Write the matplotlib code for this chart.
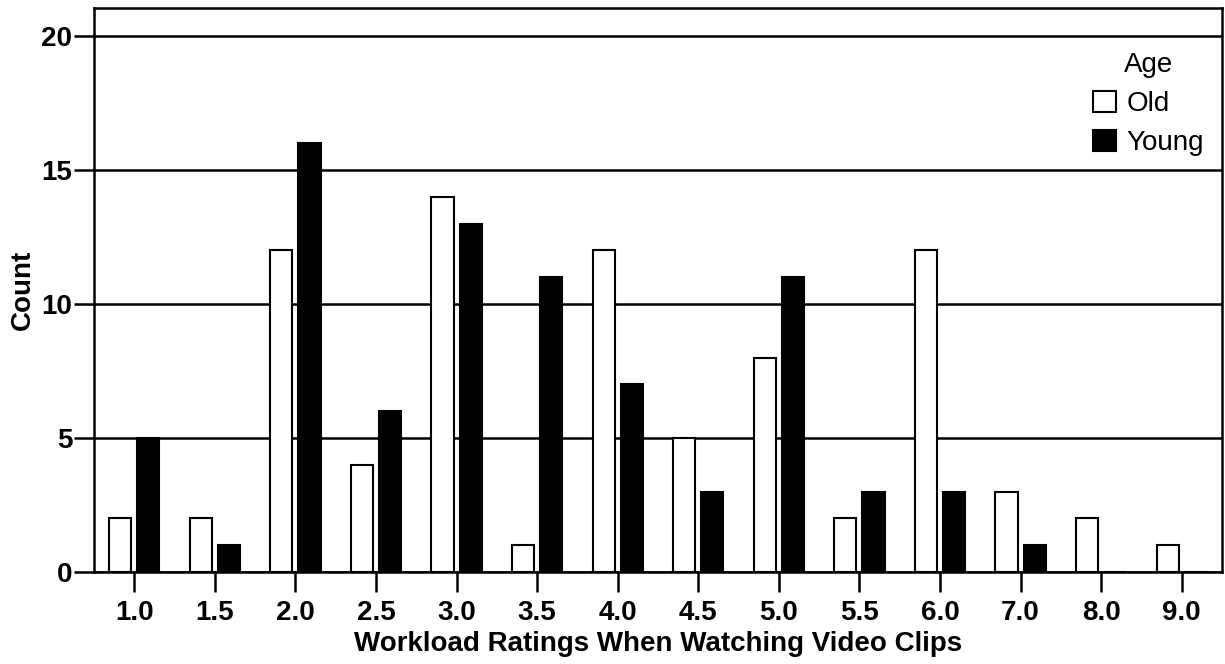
import numpy as np
import matplotlib.pyplot as plt
from matplotlib.patches import Patch

plt.rcParams['font.family'] = ['Liberation Sans', 'DejaVu Sans']

ratings = ['1.0', '1.5', '2.0', '2.5', '3.0', '3.5', '4.0', '4.5', '5.0', '5.5', '6.0', '7.0', '8.0', '9.0']
old_counts = [2, 2, 12, 4, 14, 1, 12, 5, 8, 2, 12, 3, 2, 1]
young_counts = [5, 1, 16, 6, 13, 11, 7, 3, 11, 3, 3, 1, 0, 0]

fig = plt.figure(figsize=(12.25, 6.64), dpi=100)
ax = fig.add_axes([94 / 1225, 92 / 664, (1222 - 94) / 1225, (572 - 8) / 664])

x = np.arange(len(ratings))
w = 0.275
off = 0.175

ax.set_axisbelow(True)
ax.yaxis.grid(True, color='black', linewidth=1.8)
ax.bar(x - off, old_counts, w, color='white', edgecolor='black', linewidth=1.5, zorder=3)
ax.bar(x + off, young_counts, w, color='black', edgecolor='black', linewidth=1.5, zorder=3)

ax.set_xlim(-0.5, len(ratings) - 0.5)
ax.set_ylim(0, 21.04)
ax.set_yticks([0, 5, 10, 15, 20])
ax.set_xticks(x)
ax.set_xticklabels(ratings)

for s in ax.spines.values():
    s.set_linewidth(1.8)

ax.tick_params(axis='both', length=14.5, width=1.8, labelsize=20)
ax.tick_params(axis='x', pad=6)
ax.tick_params(axis='y', pad=1)
for lab in ax.get_xticklabels() + ax.get_yticklabels():
    lab.set_fontweight('bold')

ax.set_xlabel('Workload Ratings When Watching Video Clips', fontsize=20, fontweight='bold', labelpad=3)
ax.set_ylabel('Count', fontsize=20, fontweight='bold', labelpad=4)

handles = [Patch(facecolor='white', edgecolor='black', linewidth=1.5, label='Old'),
           Patch(facecolor='black', edgecolor='black', linewidth=1.5, label='Young')]
leg = ax.legend(handles=handles, title='Age', frameon=False, fontsize=20, title_fontsize=20,
                loc='upper right', bbox_to_anchor=(0.999, 0.951), handlelength=0.8, handleheight=0.8,
                handletextpad=0.4, labelspacing=0.45, borderaxespad=0.2)

fig.savefig('out.png', dpi=100)
